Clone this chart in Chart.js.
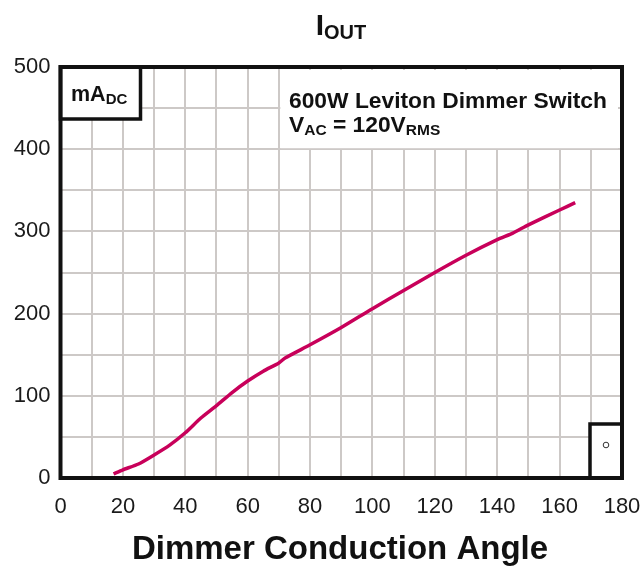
<!DOCTYPE html>
<html>
<head>
<meta charset="utf-8">
<script src="https://cdn.jsdelivr.net/npm/chart.js@4.4.1/dist/chart.umd.min.js"></script>
<style>
  html, body { margin: 0; padding: 0; background: #fff; }
  #wrap { width: 642px; height: 573px; position: relative; }
</style>
</head>
<body>
<div id="wrap"><canvas id="ioutChart" width="642" height="573"></canvas></div>
<script>
// conduction angle (deg) and output current (mA DC)
var angles = [17, 20, 25, 30, 35, 40, 45, 50, 55, 60, 65, 70, 72, 80, 90, 100, 110, 120, 130, 140, 145, 150, 160, 165];
var currentMa = [5, 10, 17, 28, 40, 55, 73, 88, 104, 118, 130, 140, 146, 162, 183, 206, 228, 250, 271, 290, 298, 308, 326, 335];
var xTickLabels = [0, 20, 40, 60, 80, 100, 120, 140, 160, 180];
var yTickLabels = [0, 100, 200, 300, 400, 500];

var lineColor = '#c8005a',
    gridColor = '#cdc9c7',
    fontName = '"Liberation Sans", Arial, sans-serif';

var points = [];
for (var i = 0; i < angles.length; i++) {
    points.push({ x: angles[i], y: currentMa[i] });
}

// draws text with a subscript part: parts = [[text, size, dy], ...]
function drawParts(ctx, x, y, parts) {
    for (var i = 0; i < parts.length; i++) {
        ctx.font = 'bold ' + parts[i][1] + 'px ' + fontName;
        ctx.fillText(parts[i][0], x, y + parts[i][2]);
        x += ctx.measureText(parts[i][0]).width;
    }
}

function partsWidth(ctx, parts) {
    var w = 0;
    for (var i = 0; i < parts.length; i++) {
        ctx.font = 'bold ' + parts[i][1] + 'px ' + fontName;
        w += ctx.measureText(parts[i][0]).width;
    }
    return w;
}

var decorPlugin = {
    id: 'decor',
    beforeDatasetsDraw: function (chart) {
        var ctx = chart.ctx, a = chart.chartArea;
        var sx = chart.scales.x, sy = chart.scales.y;
        ctx.save();
        // white label box covering the grid, top right
        var bx = sx.getPixelForValue(70) + 1.5;
        ctx.fillStyle = '#fff';
        ctx.fillRect(bx, a.top + 3, a.right - 4 - bx, sy.getPixelForValue(400) - a.top - 4);
        ctx.fillStyle = '#111';
        ctx.textBaseline = 'alphabetic';
        drawParts(ctx, 289, 108, [['600W Leviton Dimmer Switch', 22.8, 0]]);
        drawParts(ctx, 289, 132, [['V', 22.8, 0], ['AC', 15.5, 3], [' = 120V', 22.8, 0], ['RMS', 15.5, 3]]);

        // mA DC unit box
        ctx.fillStyle = '#fff';
        ctx.fillRect(a.left, a.top, 80, 52);
        ctx.strokeStyle = '#111';
        ctx.lineWidth = 3.5;
        ctx.strokeRect(a.left, a.top, 80, 52);
        ctx.fillStyle = '#111';
        drawParts(ctx, 71, 101, [['mA', 21.5, 0], ['DC', 15, 3]]);

        // small degree box, bottom right
        ctx.fillStyle = '#fff';
        ctx.fillRect(590, 424, a.right - 590, a.bottom - 424);
        ctx.strokeRect(590, 424, a.right - 590, a.bottom - 424);
        ctx.lineWidth = 1;
        ctx.strokeStyle = '#333';
        ctx.beginPath();
        ctx.arc(606, 445, 2.8, 0, Math.PI * 2);
        ctx.stroke();
        ctx.restore();
    },
    afterDraw: function (chart) {
        var ctx = chart.ctx, a = chart.chartArea;
        ctx.save();
        // frame
        ctx.strokeStyle = '#111';
        ctx.lineWidth = 4;
        ctx.strokeRect(a.left, a.top, a.right - a.left, a.bottom - a.top);

        // title I_OUT
        ctx.fillStyle = '#111';
        var tParts = [['I', 30, 0], ['OUT', 20, 4]];
        var tw = partsWidth(ctx, tParts);
        drawParts(ctx, 341 - tw / 2, 35, tParts);

        // x axis title
        ctx.font = 'bold 33px ' + fontName;
        ctx.textAlign = 'center';
        ctx.fillText('Dimmer Conduction Angle', 340, 559);
        ctx.restore();
    }
};

var ctx = document.getElementById('ioutChart');
new Chart(ctx, {
    type: 'scatter',
    data: {
        datasets: [{
            data: points,
            showLine: true,
            borderColor: lineColor,
            borderWidth: 3.5,
            pointRadius: 0,
            tension: 0.2,
            fill: false
        }]
    },
    options: {
        responsive: false,
        animation: false,
        devicePixelRatio: 1,
        layout: { padding: { top: 67, right: 20, left: 0, bottom: 0 } },
        plugins: {
            legend: { display: false },
            tooltip: { enabled: false }
        },
        scales: {
            x: {
                type: 'linear',
                min: 0,
                max: 180,
                afterFit: function (s) { s.height = 95; s.paddingLeft = 0; s.paddingRight = 0; },
                afterBuildTicks: function (s) {
                    var t = [];
                    for (var v = 0; v <= 180; v += 10) t.push({ value: v });
                    s.ticks = t;
                },
                grid: { color: gridColor, lineWidth: 2, drawTicks: false },
                border: { display: false },
                ticks: {
                    autoSkip: false,
                    maxRotation: 0,
                    padding: 16,
                    color: '#1a1a1a',
                    font: { family: fontName, size: 22 },
                    callback: function (v) { return xTickLabels.indexOf(v) >= 0 ? String(v) : ''; }
                }
            },
            y: {
                type: 'linear',
                min: 0,
                max: 500,
                afterFit: function (s) { s.width = 60.5; s.paddingTop = 0; s.paddingBottom = 0; },
                afterBuildTicks: function (s) {
                    var t = [];
                    for (var v = 0; v <= 500; v += 50) t.push({ value: v });
                    s.ticks = t;
                },
                grid: { color: gridColor, lineWidth: 2, drawTicks: false },
                border: { display: false },
                ticks: {
                    autoSkip: false,
                    padding: 10,
                    color: '#1a1a1a',
                    font: { family: fontName, size: 22 },
                    callback: function (v) { return yTickLabels.indexOf(v) >= 0 ? String(v) : ''; }
                }
            }
        }
    },
    plugins: [decorPlugin]
});
</script>
</body>
</html>
